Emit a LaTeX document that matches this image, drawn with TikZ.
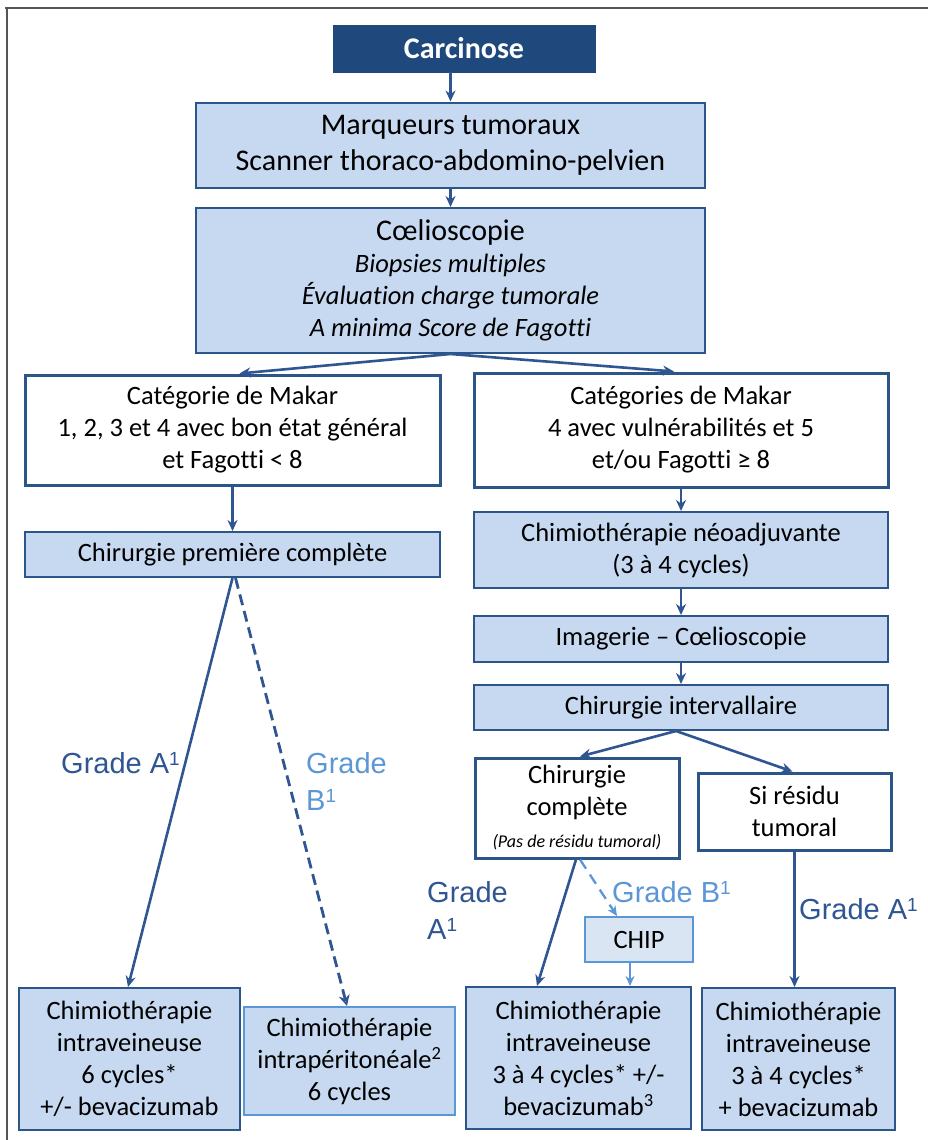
\documentclass[tikz,border=0pt]{standalone}
\usepackage{fontspec}
\setmainfont{Carlito}[Ligatures=NoCommon]
\newfontfamily\arialf{Liberation Sans}
\usetikzlibrary{arrows.meta,calc}
\definecolor{navy}{HTML}{1F497D}
\definecolor{boxfill}{HTML}{C6D9F1}
\definecolor{boxline}{HTML}{2C5589}
\definecolor{arr}{HTML}{2F5592}
\definecolor{lblue}{HTML}{5B96D6}
\definecolor{chipfill}{HTML}{DAE5F3}
\definecolor{framec}{HTML}{555555}
\newcommand{\supone}{{\fontsize{19}{19}\selectfont\raisebox{8pt}{1}}}
\begin{document}
\begin{tikzpicture}[x=1pt,y=-1pt,
  base/.style={rectangle, inner sep=0pt, align=center, font=\fontsize{26.5}{32}\selectfont},
  lbox/.style={base, fill=boxfill, draw=boxline, line width=2pt},
  wbox/.style={base, fill=white, draw=boxline, line width=3pt},
  conn/.style={draw=arr, line width=2.6pt, -{Stealth[length=11pt,width=10pt]}},
  dconn/.style={draw=arr, line width=2.8pt, dash pattern=on 11pt off 6pt, -{Stealth[length=11pt,width=11pt,open]}},
  lconn/.style={draw=lblue, line width=2.3pt, dash pattern=on 11pt off 7pt, -{Stealth[length=10pt,width=9pt]}},
  lsolid/.style={draw=lblue, line width=2.3pt, -{Stealth[length=10pt,width=9pt]}},
  labA/.style={inner sep=0pt, text=arr, font=\arialf\fontsize{29}{37}\selectfont},
  labB/.style={inner sep=0pt, text=lblue, font=\arialf\fontsize{29}{37}\selectfont},
]
\useasboundingbox (0,0) rectangle (928,1140);
\fill[white] (0,0) rectangle (928,1140);
% frame
\draw[framec, line width=2pt] (5,8) -- (928,8);
\draw[framec, line width=1.5pt] (7,8) -- (7,1140);

% nodes
\node[base, fill=navy, draw=navy, minimum width=262, minimum height=47,
      font=\bfseries\fontsize{30}{36}\selectfont, text=white] (carc) at (464,48.5) {Carcinose};
\node[lbox, minimum width=509, minimum height=85, font=\fontsize{30}{36}\selectfont] (marq) at (450.5,145)
  {Marqueurs tumoraux\\Scanner thoraco-abdomino-pelvien};
\node[lbox, minimum width=509, minimum height=145] (coel) at (450.5,280.5)
  {{\fontsize{30}{34}\selectfont Cœlioscopie}\\\textit{Biopsies multiples}\\\textit{Évaluation charge tumorale}\\\textit{A minima Score de Fagotti}};
\node[wbox, minimum width=415, minimum height=110] (lmak) at (232.5,430)
  {Catégorie de Makar\\1, 2, 3 et 4 avec bon état général\\et Fagotti < 8};
\node[wbox, minimum width=414, minimum height=114] (rmak) at (681,430)
  {Catégories de Makar\\4 avec vulnérabilités et 5\\et/ou Fagotti ≥ 8};
\node[lbox, minimum width=415, minimum height=45] (chir1) at (232.5,554.5) {Chirurgie première complète};
\node[lbox, minimum width=414, minimum height=76] (neo) at (681,550) {Chimiothérapie néoadjuvante\\(3 à 4 cycles)};
\node[lbox, minimum width=414, minimum height=46] (imag) at (681,639) {Imagerie – Cœlioscopie};
\node[lbox, minimum width=414, minimum height=45] (chint) at (681,707.5) {Chirurgie intervallaire};
\node[wbox, minimum width=204, minimum height=100] (chcomp) at (577,808)
  {Chirurgie\\complète\\{\itshape\fontsize{18}{22}\selectfont (Pas de résidu tumoral)}};
\node[wbox, minimum width=193, minimum height=77] (resid) at (794.5,811.5) {Si résidu\\tumoral};
\node[base, fill=chipfill, draw=lblue, line width=2pt, minimum width=108, minimum height=45] (chip) at (639,939.5) {CHIP};
\node[lbox, minimum width=221, minimum height=142] (b1) at (129.5,1059)
  {Chimiothérapie\\intraveineuse\\6 cycles*\\+/- bevacizumab};
\node[base, fill=boxfill, draw=lblue, line width=2pt, minimum width=211, minimum height=108] (b2) at (349.5,1061)
  {Chimiothérapie\\intrapéritonéale\textsuperscript{2}\\6 cycles};
\node[lbox, minimum width=225, minimum height=142] (b3) at (578.5,1058)
  {Chimiothérapie\\intraveineuse\\3 à 4 cycles* +/-\\bevacizumab\textsuperscript{3}};
\node[lbox, minimum width=193, minimum height=142] (b4) at (798.5,1059)
  {Chimiothérapie\\intraveineuse\\3 à 4 cycles*\\+ bevacizumab};

% connectors
\draw[conn] (carc.south -| marq.north) -- (marq.north);
\draw[conn] (marq.south) -- (coel.north);
\draw[conn] (coel.south) -- ([xshift=7pt]lmak.north);
\draw[conn] (coel.south) -- ([xshift=-7pt]rmak.north);
\draw[conn] (lmak.south) -- (chir1.north);
\draw[conn] (rmak.south) -- (neo.north);
\draw[conn] (neo.south) -- (imag.north);
\draw[conn] (imag.south) -- (chint.north);
\draw[conn] ([xshift=-5pt]chint.south) -- ([xshift=3pt]chcomp.north);
\draw[conn] ([xshift=-5pt]chint.south) -- ([xshift=-2pt]resid.north);
\draw[conn] (chir1.south) -- ([xshift=-1.5pt]b1.north);
\draw[dconn] ([xshift=3pt]chir1.south) -- ([xshift=-2.5pt]b2.north);
\draw[conn] ([xshift=-1pt]chcomp.south) -- ([xshift=-41.5pt]b3.north);
\draw[lconn] ([xshift=3pt]chcomp.south) -- ([xshift=-22pt]chip.north);
\draw[lsolid] ([xshift=-9pt]chip.south) -- ([xshift=-9pt]chip.south |- b3.north);
\draw[conn] (resid.south) -- (resid.south |- b4.north);

% labels
\node[labA, anchor=east] (gA1) at (180,763) {Grade A\supone};
\node[labB, anchor=west, align=left] (gB1) at (306,781) {Grade\\B\supone};
\node[labA, anchor=west, align=left] (gA2) at (427,910) {Grade\\A\supone};
\node[labB, anchor=west] (gB2) at (612,892) {Grade B\supone};
\node[labA, anchor=west] (gA3) at (799,909) {Grade A\supone};
\end{tikzpicture}
\end{document}
